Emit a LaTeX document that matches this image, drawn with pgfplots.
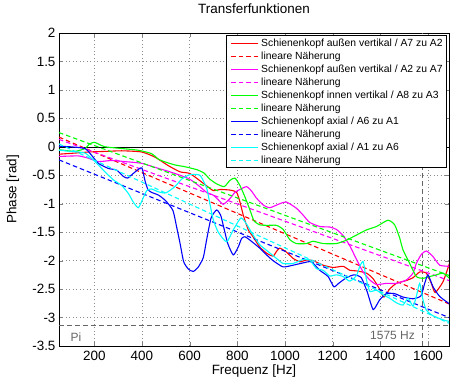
\documentclass[border=0pt]{standalone}
\usepackage{pgfplots}
\pgfplotsset{compat=1.18}
\usepackage{fontspec}
\setmainfont{Liberation Sans}
\definecolor{mred}{rgb}{1,0,0}
\definecolor{mmag}{rgb}{1,0,1}
\definecolor{mgreen}{rgb}{0,1,0}
\definecolor{mblue}{rgb}{0,0,1}
\definecolor{mcyan}{rgb}{0,1,1}
\definecolor{gridgray}{rgb}{0.55,0.55,0.55}
\definecolor{refgray}{rgb}{0.4,0.4,0.4}
\begin{document}
\begin{tikzpicture}
\begin{axis}[
  scale only axis, width=390bp, height=313bp,
  xmin=52, xmax=1688, ymin=-3.5, ymax=2,
  xtick={200,400,...,1600},
  ytick={-3.5,-3,...,2},
  /pgf/number format/assume math mode=true,
  /pgf/number format/fixed,
  /pgf/number format/1000 sep={},
  tick label style={font=\fontsize{13.5}{16}\selectfont},
  xticklabel style={yshift=-2bp},
  tick align=inside, tick pos=both, major tick length=4bp,
  grid=major,
  major grid style={gridgray, line width=0.5bp, dash pattern=on 1bp off 2.5bp},
  axis line style={black, line width=0.6bp},
  title={Transferfunktionen},
  title style={font=\fontsize{13.5}{16}\selectfont, at={(axis description cs:0.5,1.0575)}, anchor=center},
  xlabel={Frequenz [Hz]},
  xlabel style={font=\fontsize{13.5}{16}\selectfont, at={(axis description cs:0.5,-0.08)}, anchor=center},
  ylabel={Phase [rad]},
  ylabel style={font=\fontsize{13.5}{16}\selectfont, at={(axis description cs:-0.118,0.5)}, anchor=center},
  every axis plot/.append style={line width=1.1bp},
  dashline/.style={dash pattern=on 4.5bp off 3bp},
  curve/.style={smooth, tension=0.35},
]
% reference lines
\addplot[black, line width=0.6bp, forget plot] coordinates {(52,0) (1688,0)};
\addplot[refgray, line width=0.7bp, dash pattern=on 5bp off 3bp, forget plot] coordinates {(52,-3.14159) (1688,-3.14159)};
\addplot[refgray, line width=0.7bp, dash pattern=on 5bp off 3bp, forget plot] coordinates {(1575,-3.5) (1575,2)};

% red: aussen vertikal A7 zu A2
\addplot[mred, curve] coordinates {
(52,-0.13) (119,-0.11) (182,-0.09) (250,-0.08) (315,-0.07) (398,-0.09) (454,-0.18)
(510,-0.33) (560,-0.44) (601,-0.47) (657,-0.64) (699,-0.77) (727,-0.75) (769,-0.76)
(797,-0.80) (811,-0.97) (825,-1.20) (846,-1.46) (866,-1.58) (894,-1.76) (923,-1.87)
(950,-1.92) (964,-1.84) (978,-1.78) (1006,-1.85) (1034,-1.96) (1062,-2.02) (1090,-1.99)
(1118,-2.00) (1160,-2.08) (1202,-2.12) (1244,-2.10) (1272,-2.17) (1300,-2.18) (1342,-2.22)
(1370,-2.32) (1397,-2.50) (1415,-2.64) (1439,-2.50) (1467,-2.40) (1509,-2.35) (1537,-2.30)
(1565,-2.20) (1593,-2.22) (1614,-2.40) (1630,-2.56) (1663,-2.37) (1690,-2.05)};
\addplot[mred, dashline] coordinates {(52,0.17) (1688,-2.76)};

% magenta: aussen vertikal A2 zu A7
\addplot[mmag, curve] coordinates {
(52,-0.17) (133,-0.16) (175,-0.20) (217,-0.26) (273,-0.24) (329,-0.26) (399,-0.29)
(454,-0.36) (510,-0.43) (560,-0.50) (601,-0.57) (643,-0.70) (671,-0.80) (699,-0.85)
(720,-0.93) (741,-1.01) (769,-0.91) (790,-0.80) (811,-0.75) (839,-0.70) (860,-0.78)
(880,-0.90) (908,-1.02) (936,-1.07) (978,-1.00) (1006,-0.97) (1048,-1.08) (1076,-1.20)
(1104,-1.33) (1146,-1.40) (1188,-1.41) (1215,-1.45) (1244,-1.56) (1272,-1.74) (1300,-1.98)
(1328,-2.20) (1356,-2.34) (1384,-2.42) (1425,-2.40) (1467,-2.40) (1509,-2.34) (1537,-2.22)
(1551,-2.05) (1572,-1.89) (1593,-1.83) (1621,-1.93) (1649,-2.08) (1690,-2.10)};
\addplot[mmag, dashline] coordinates {(52,0.13) (1688,-2.35)};

% green: innen vertikal A8 zu A3
\addplot[mgreen, curve] coordinates {
(52,-0.05) (119,-0.08) (161,-0.03) (180,0.05) (200,0.08) (217,0.05) (245,0.0)
(315,-0.03) (384,-0.06) (440,-0.12) (470,-0.22) (500,-0.27) (540,-0.32) (580,-0.35)
(629,-0.40) (660,-0.46) (685,-0.57) (713,-0.65) (745,-0.70) (769,-0.59) (790,-0.55)
(811,-0.68) (832,-0.88) (853,-1.11) (870,-1.30) (894,-1.37) (923,-1.38) (964,-1.38)
(992,-1.45) (1020,-1.63) (1048,-1.70) (1090,-1.70) (1118,-1.66) (1160,-1.70) (1216,-1.70)
(1258,-1.64) (1300,-1.55) (1342,-1.46) (1384,-1.40) (1432,-1.29) (1460,-1.37) (1481,-1.60)
(1495,-1.81) (1523,-2.05) (1551,-2.28) (1579,-2.31) (1607,-2.28) (1635,-2.25) (1663,-2.22) (1690,-2.31)};
\addplot[mgreen, dashline] coordinates {(52,0.25) (1688,-2.26)};

% blue: axial A6 zu A1
\addplot[mblue, curve] coordinates {
(52,0.01) (100,0.0) (161,-0.03) (189,-0.15) (217,-0.29) (259,-0.38) (294,-0.41)
(322,-0.52) (340,-0.55) (363,-0.47) (384,-0.40) (400,-0.37) (413,-0.60) (425,-0.75)
(440,-0.80) (470,-0.85) (500,-0.95) (530,-1.12) (545,-1.40) (560,-1.70) (575,-2.02)
(595,-2.15) (615,-2.19) (635,-2.12) (657,-1.95) (671,-1.64) (690,-1.25) (713,-1.11)
(730,-1.20) (745,-1.45) (760,-1.70) (783,-1.90) (804,-1.76) (818,-1.61) (832,-1.58)
(853,-1.64) (894,-1.78) (923,-1.90) (950,-2.00) (992,-2.11) (1034,-2.08) (1076,-2.04)
(1110,-2.02) (1146,-2.17) (1181,-2.28) (1205,-2.46) (1225,-2.40) (1258,-2.30) (1290,-2.25)
(1320,-2.30) (1345,-2.55) (1370,-2.86) (1397,-2.69) (1425,-2.58) (1460,-2.58) (1495,-2.64)
(1537,-2.67) (1570,-2.62) (1586,-2.40) (1600,-2.25) (1621,-2.46) (1649,-2.63) (1690,-2.76)};
\addplot[mblue, dashline] coordinates {(52,-0.23) (1688,-3.0)};

% cyan: axial A1 zu A6
\addplot[mcyan, curve] coordinates {
(52,-0.06) (100,-0.08) (161,-0.11) (203,-0.26) (245,-0.44) (280,-0.58) (315,-0.68)
(343,-0.82) (365,-0.98) (385,-1.07) (405,-0.90) (420,-0.77) (440,-0.74) (468,-0.79)
(500,-0.81) (538,-0.70) (566,-0.57) (601,-0.49) (643,-0.50) (671,-0.72) (685,-1.00)
(699,-1.28) (720,-1.50) (755,-1.67) (783,-1.46) (815,-1.25) (839,-1.36) (866,-1.55)
(894,-1.72) (923,-1.82) (964,-1.96) (992,-2.05) (1034,-2.05) (1076,-1.98) (1104,-1.99)
(1132,-2.14) (1160,-2.17) (1188,-2.27) (1215,-2.25) (1244,-2.28) (1272,-2.36) (1300,-2.26)
(1314,-2.10) (1328,-2.02) (1342,-2.34) (1356,-2.54) (1384,-2.52) (1411,-2.60) (1439,-2.66)
(1467,-2.74) (1495,-2.78) (1516,-2.66) (1537,-2.80) (1551,-2.63) (1565,-2.40) (1579,-2.69)
(1593,-2.87) (1621,-2.97) (1663,-3.04) (1690,-3.07)};
\addplot[mcyan, dashline] coordinates {(52,0.05) (1688,-3.1)};

\node[refgray, font=\fontsize{12}{14}\selectfont] at (axis cs:123,-3.34) {Pi};
\node[refgray, font=\fontsize{12}{14}\selectfont] at (axis cs:1451,-3.31) {1575 Hz};
\end{axis}
% legend (drawn on top, MATLAB style)
\begin{scope}[shift={(current axis.north west)}, x=1bp, y=-1bp]
  \draw[black, line width=0.6bp, fill=white] (167,2) rectangle (387,134);
  % solid samples as thin filled bars
  \fill[mred]   (172,9.7)  rectangle (199,11.3);
  \fill[mmag]   (172,35.7) rectangle (199,37.3);
  \fill[mgreen] (172,61.7) rectangle (199,63.3);
  \fill[mblue]  (172,87.7) rectangle (199,89.3);
  \fill[mcyan]  (172,113.7) rectangle (199,115.3);
  % dashed samples
  \draw[mred,   line width=1.6bp, dash pattern=on 4.5bp off 3bp] (172,23.5) -- (199,23.5);
  \draw[mmag,   line width=1.6bp, dash pattern=on 4.5bp off 3bp] (172,49.5) -- (199,49.5);
  \draw[mgreen, line width=1.6bp, dash pattern=on 4.5bp off 3bp] (172,75.5) -- (199,75.5);
  \draw[mblue,  line width=1.6bp, dash pattern=on 4.5bp off 3bp] (172,101.5) -- (199,101.5);
  \draw[mcyan,  line width=1.6bp, dash pattern=on 4.5bp off 3bp] (172,127.5) -- (199,127.5);
  \begin{scope}[every node/.style={anchor=base west, inner sep=0pt, font=\fontsize{10.4}{12}\selectfont, text=black}]
  \node at (202,13.9) {Schienenkopf außen vertikal / A7 zu A2};
  \node at (202,26.9) {lineare Näherung};
  \node at (202,39.9) {Schienenkopf außen vertikal / A2 zu A7};
  \node at (202,52.9) {lineare Näherung};
  \node at (202,65.9) {Schienenkopf innen vertikal / A8 zu A3};
  \node at (202,78.9) {lineare Näherung};
  \node at (202,91.9) {Schienenkopf axial / A6 zu A1};
  \node at (202,104.9) {lineare Näherung};
  \node at (202,117.9) {Schienenkopf axial / A1 zu A6};
  \node at (202,130.9) {lineare Näherung};
  \end{scope}
\end{scope}
\pgfresetboundingbox
\path ([shift={(-59bp,-32bp)}]current axis.south west) rectangle ([shift={(1bp,33bp)}]current axis.north east);
\end{tikzpicture}
\end{document}
